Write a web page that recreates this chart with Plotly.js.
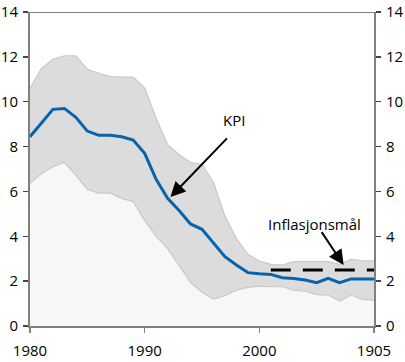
<!DOCTYPE html>
<html>
<head>
<meta charset="utf-8">
<script src="https://cdn.plot.ly/plotly-3.0.1.min.js"></script>
<style>html,body{margin:0;padding:0;background:#fff;}#chart{width:405px;height:362px;}</style>
</head>
<body>
<div id="chart"></div>
<script>
const years = [1980,1981,1982,1983,1984,1985,1986,1987,1988,1989,1990,1991,1992,1993,1994,1995,1996,1997,1998,1999,2000,2001,2002,2003,2004,2005,2006,2007,2008,2009,2010];
const kpi = [8.44,9.05,9.66,9.70,9.30,8.69,8.50,8.50,8.44,8.29,7.70,6.54,5.69,5.15,4.55,4.31,3.69,3.09,2.72,2.38,2.33,2.30,2.15,2.12,2.05,1.93,2.12,1.93,2.10,2.10,2.10];
const upper = [10.6,11.49,11.89,12.05,12.05,11.44,11.27,11.12,11.1,11.1,10.62,9.26,8.08,7.65,7.3,7.2,6.4,4.9,3.9,3.2,2.9,2.75,2.72,2.87,2.87,2.87,2.87,2.75,2.97,2.92,2.9];
const lower = [6.36,6.8,7.1,7.3,6.73,6.09,5.92,5.92,5.69,5.54,4.7,4.0,3.45,2.7,1.95,1.5,1.2,1.35,1.6,1.72,1.78,1.75,1.75,1.6,1.55,1.4,1.38,1.11,1.38,1.19,1.15];
const targetYears = [2001,2010];
const targetValues = [2.5,2.5];
const xTickVals = [1980,1990,2000,2010];
const xTickText = ['1980','1990','2000','1905'];
const yTickVals = [0,2,4,6,8,10,12,14];
const labelKPI = 'KPI';
const labelTarget = 'Inflasjonsmål';

const FONT = 'Open Sans, Lato, DejaVu Sans, sans-serif';
const traces = [
  {x: years, y: lower, type: 'scatter', mode: 'lines', fill: 'tozeroy', fillcolor: '#f7f7f7',
   line: {color: '#c9c9c9', width: 1.2}, hoverinfo: 'skip'},
  {x: years, y: upper, type: 'scatter', mode: 'lines', fill: 'tonexty', fillcolor: '#dddcdc',
   line: {color: '#c9c9c9', width: 1.2}, hoverinfo: 'skip'},
  {x: years, y: kpi, type: 'scatter', mode: 'lines', line: {color: '#0863ad', width: 3}},
  {x: targetYears, y: targetValues, type: 'scatter', mode: 'lines', line: {color: '#000', width: 3, dash: '20px,12px'}},
  {x: [years[0]], y: [0], yaxis: 'y2', type: 'scatter', mode: 'markers', marker: {opacity: 0}, hoverinfo: 'skip'}
];

const axisCommon = {
  range: [0, 14], tickvals: yTickVals, ticks: 'outside', ticklen: 5, tickwidth: 1.5, tickcolor: '#444',
  showline: true, linecolor: '#808080', linewidth: 2, showgrid: false, zeroline: false,
  tickfont: {family: FONT, size: 15, color: '#000'}, ticklabelstandoff: 2, fixedrange: true
};

const layout = {
  width: 405, height: 362,
  margin: {l: 30, r: 31, t: 12, b: 36},
  paper_bgcolor: '#fff', plot_bgcolor: '#fff',
  showlegend: false,
  font: {family: FONT, size: 15, color: '#000'},
  xaxis: {range: [1980, 2010], tickvals: xTickVals, ticktext: xTickText, ticks: 'outside', ticklen: 5,
          tickwidth: 1.5, tickcolor: '#808080', showline: true, linecolor: '#808080', linewidth: 2,
          showgrid: false, zeroline: false, tickfont: {family: FONT, size: 15, color: '#000'},
          ticklabelstandoff: 5, fixedrange: true},
  yaxis: Object.assign({side: 'left'}, axisCommon),
  yaxis2: Object.assign({side: 'right', overlaying: 'y'}, axisCommon),
  shapes: [
    {type: 'line', xref: 'paper', yref: 'y', x0: 0, x1: 1, y0: 14, y1: 14, line: {color: '#000', width: 1.2}}
  ],
  annotations: [
    {x: 1997.8, y: 9.2, xref: 'x', yref: 'y', text: labelKPI, showarrow: false, font: {family: FONT, size: 15, color: '#000'}},
    {x: 1992.25, y: 5.75, xref: 'x', yref: 'y', ax: 1997.3, ay: 8.43, axref: 'x', ayref: 'y', text: '',
     showarrow: true, arrowhead: 2, arrowsize: 1.5, arrowwidth: 2, arrowcolor: '#000', standoff: 0},
    {x: 2004.8, y: 4.55, xref: 'x', yref: 'y', text: labelTarget, showarrow: false, font: {family: FONT, size: 15, color: '#000'}},
    {x: 2007.35, y: 2.72, xref: 'x', yref: 'y', ax: 2005.35, ay: 4.25, axref: 'x', ayref: 'y', text: '',
     showarrow: true, arrowhead: 2, arrowsize: 1.5, arrowwidth: 2, arrowcolor: '#000', standoff: 0}
  ]
};

Plotly.newPlot('chart', traces, layout, {staticPlot: true, displayModeBar: false});
</script>
</body>
</html>
